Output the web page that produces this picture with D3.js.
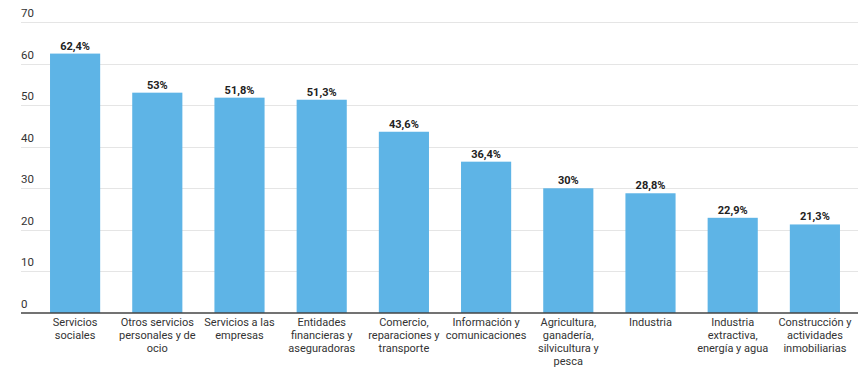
<!DOCTYPE html>
<html>
<head>
<meta charset="utf-8">
<script src="https://cdn.jsdelivr.net/npm/d3@7"></script>
<style>
  html, body { margin: 0; padding: 0; background: #fff; }
  svg { display: block; font-family: Roboto, "Noto Sans", sans-serif; }
  .grid line { stroke: #e5e5e5; stroke-width: 1; }
  .tick-label { fill: #333; font-size: 11.5px; }
  .bar { fill: #5eb4e6; }
  .val { fill: #222; font-size: 11px; font-weight: 700; }
  .cat { fill: #333; font-size: 11px; }
</style>
</head>
<body>
<svg id="chart" width="858" height="370"></svg>
<script>
// data
const categories = [
  'Servicios sociales',
  'Otros servicios personales y de ocio',
  'Servicios a las empresas',
  'Entidades financieras y aseguradoras',
  'Comercio, reparaciones y transporte',
  'Información y comunicaciones',
  'Agricultura, ganadería, silvicultura y pesca',
  'Industria',
  'Industria extractiva, energía y agua',
  'Construcción y actividades inmobiliarias'
];
const values = [62.4, 53, 51.8, 51.3, 43.6, 36.4, 30, 28.8, 22.9, 21.3];
const valueLabels = ['62,4%', '53%', '51,8%', '51,3%', '43,6%', '36,4%', '30%', '28,8%', '22,9%', '21,3%'];
const yTicks = [0, 10, 20, 30, 40, 50, 60, 70];

const W = 858, H = 370;
const left = 21, baseY = 313, topY = 22;

const svg = d3.select('#chart');

const x = d3.scaleBand()
  .domain(categories)
  .range([34, 856])
  .paddingInner(0.39)
  .paddingOuter(0.195);

const y = d3.scaleLinear().domain([0, 70]).range([baseY, topY]);

// gridlines + tick labels
const grid = svg.append('g').attr('class', 'grid');
grid.selectAll('line')
  .data(yTicks.filter(d => d > 0))
  .join('line')
    .attr('x1', left).attr('x2', W)
    .attr('y1', d => Math.round(y(d)) + 0.5)
    .attr('y2', d => Math.round(y(d)) + 0.5);

svg.append('g').selectAll('text')
  .data(yTicks)
  .join('text')
    .attr('class', 'tick-label')
    .attr('x', left)
    .attr('y', d => y(d) - 5)
    .text(d => d);

// bars
svg.append('g').selectAll('rect')
  .data(values)
  .join('rect')
    .attr('class', 'bar')
    .attr('x', (d, i) => x(categories[i]))
    .attr('width', x.bandwidth())
    .attr('y', d => y(d))
    .attr('height', d => y(0) - y(d));

// value labels
svg.append('g').selectAll('text')
  .data(values)
  .join('text')
    .attr('class', 'val')
    .attr('text-anchor', 'middle')
    .attr('x', (d, i) => x(categories[i]) + x.bandwidth() / 2)
    .attr('y', d => y(d) - 4)
    .text((d, i) => valueLabels[i]);

// baseline
svg.append('line')
  .attr('x1', left).attr('x2', W)
  .attr('y1', baseY).attr('y2', baseY)
  .attr('stroke', '#444').attr('stroke-width', 1.6);

// category labels, wrapped to the band step
const cats = svg.append('g').selectAll('text')
  .data(categories)
  .join('text')
    .attr('class', 'cat')
    .attr('text-anchor', 'middle')
    .attr('x', d => x(d) + x.bandwidth() / 2)
    .attr('y', baseY + 13);

cats.each(function(d) {
  const t = d3.select(this);
  const cx = +t.attr('x');
  const words = d.split(' ');
  let line = [], n = 0;
  let ts = t.append('tspan').attr('x', cx).attr('dy', 0);
  words.forEach(w => {
    line.push(w);
    ts.text(line.join(' '));
    if (ts.node().getComputedTextLength() > 80 && line.length > 1) {
      line.pop();
      ts.text(line.join(' '));
      line = [w];
      n++;
      ts = t.append('tspan').attr('x', cx).attr('dy', 13).text(w);
    }
  });
});
</script>
</body>
</html>
